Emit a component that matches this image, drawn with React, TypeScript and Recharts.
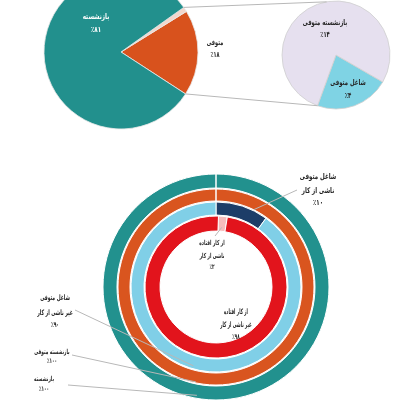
import React from 'react';
import { PieChart, Pie, Cell } from 'recharts';

// ---------- data ----------
const mainCategories = ['متوفی', 'سایر', 'بازنشسته'];
const mainValues = [18, 1, 81];

const deceasedCategories = ['شاغل متوفی', 'بازنشسته متوفی'];
const deceasedValues = [4, 14];

const retiredCategories = ['بازنشسته'];
const retiredValues = [100];

const retiredDeceasedCategories = ['بازنشسته متوفی'];
const retiredDeceasedValues = [100];

const employedDeceasedCategories = ['شاغل متوفی ناشی از کار', 'شاغل متوفی غیر ناشی از کار'];
const employedDeceasedValues = [10, 90];

const disabledCategories = ['از کار افتاده ناشی از کار', 'از کار افتاده غیر ناشی از کار'];
const disabledValues = [2, 98];

// label text lines
const mainLabelRetired = ['بازنشسته', '٪۸۱'];
const mainLabelDeceased = ['متوفی', '٪۱۸'];
const subLabelRetiredDeceased = ['بازنشسته متوفی', '٪۱۴'];
const subLabelEmployedDeceased = ['شاغل متوفی', '٪۴'];
const ringLabelEmployedWork = ['شاغل متوفی', 'ناشی از کار', '٪۱۰'];
const ringLabelDisabledWork = ['از کار افتاده', 'ناشی از کار', '٪۲'];
const ringLabelDisabledNonWork = ['از کار افتاده', 'غیر ناشی از کار', '٪۹۸'];
const ringLabelEmployedNonWork = ['شاغل متوفی', 'غیر ناشی از کار', '٪۹۰'];
const ringLabelRetiredDeceased = ['بازنشسته متوفی', '٪۱۰۰'];
const ringLabelRetired = ['بازنشسته', '٪۱۰۰'];

const toRows = (names: string[], values: number[]) =>
  names.map((name, i) => ({ name, value: values[i] }));

// ---------- layout ----------
const W = 400;
const H = 400;
const FONT = 'DejaVu Sans';

const BIG = { cx: 121, cy: 52, r: 77, start: -33 };
const SMALL = { cx: 336, cy: 55, r: 54, start: -110 };
const RING = { cx: 216, cy: 287 };
const R_TEAL = [99, 113];
const R_ORANGE = [86, 98];
const R_BLUE = [72, 85];
const R_RED = [56, 71];
const RED_START = 88;

const C = {
  teal: '#22908d',
  orange: '#d8521d',
  thin: '#f2d6cc',
  lilac: '#e6e0ef',
  sky: '#7fd3e4',
  ringTeal: '#22918e',
  ringOrange: '#d9551f',
  ringBlue: '#80cfe7',
  navy: '#1d3d68',
  red: '#e2141c',
  pink: '#f6bcbc',
  text: '#262626',
  line: '#b8b8b8',
};

const polar = (cx: number, cy: number, r: number, deg: number) => {
  const a = (deg * Math.PI) / 180;
  return [cx + r * Math.cos(a), cy - r * Math.sin(a)];
};

const sum = (a: number[]) => a.reduce((s, v) => s + v, 0);

const TextBlock = ({ lines, x, ys, fill = C.text, size = 8, sx = 0.65 }: any) => (
  <g>
    {lines.map((t: string, i: number) => (
      <text
        key={i}
        x={0}
        y={0}
        transform={`translate(${x},${ys[i]}) scale(${sx},1)`}
        textAnchor="middle"
        fontFamily={FONT}
        fontWeight="bold"
        fontSize={size}
        fill={fill}
      >
        {t}
      </text>
    ))}
  </g>
);

const Overlay = () => {
  const mainTotal = sum(mainValues);
  const upperAngle = BIG.start + ((mainValues[0] + mainValues[1]) / mainTotal) * 360;
  const p1 = polar(BIG.cx, BIG.cy, BIG.r, upperAngle);
  const p2 = polar(SMALL.cx, SMALL.cy, SMALL.r, 100);
  const p3 = polar(BIG.cx, BIG.cy, BIG.r, BIG.start);
  const p4 = polar(SMALL.cx, SMALL.cy, SMALL.r, SMALL.start);

  const navyEnd = 90 - (employedDeceasedValues[0] / sum(employedDeceasedValues)) * 360;
  const a1 = polar(RING.cx, RING.cy, R_BLUE[1] + 1, navyEnd + 10);
  const pinkMid = RED_START - (disabledValues[0] / sum(disabledValues)) * 180;
  const a2 = polar(RING.cx, RING.cy, R_RED[0] + 4, pinkMid);
  const a3 = polar(RING.cx, RING.cy, R_BLUE[1] - 3, -106);
  const a4 = polar(RING.cx, RING.cy, R_ORANGE[1] - 1, -102);
  const a5 = polar(RING.cx, RING.cy, R_TEAL[1] - 3, -100);

  const ln = (x1: number, y1: number, x2: number, y2: number, key: string) => (
    <line key={key} x1={x1} y1={y1} x2={x2} y2={y2} stroke={C.line} strokeWidth={1} />
  );

  return (
    <svg
      width={W}
      height={H}
      style={{ position: 'absolute', left: 0, top: 0, pointerEvents: 'none', filter: 'grayscale(1)' }}
    >
      {ln(p1[0], p1[1], p2[0], p2[1], 'c1')}
      {ln(p3[0], p3[1], p4[0], p4[1], 'c2')}
      {ln(297, 190, a1[0], a1[1], 'l1')}
      {ln(a2[0], a2[1], 215, 236, 'l2')}
      {ln(75, 310, a3[0], a3[1], 'l3')}
      {ln(72, 355, a4[0], a4[1], 'l4')}
      {ln(68, 385, a5[0], a5[1], 'l5')}

      <TextBlock lines={mainLabelRetired} x={96} ys={[19, 32]} fill="#ffffff" sx={0.7} />
      <TextBlock lines={mainLabelDeceased} x={215} ys={[45, 57]} sx={0.62} />
      <TextBlock lines={subLabelRetiredDeceased} x={325} ys={[25, 37]} sx={0.66} />
      <TextBlock lines={subLabelEmployedDeceased} x={348} ys={[85, 98]} sx={0.67} />

      <TextBlock lines={ringLabelEmployedWork} x={318} ys={[179, 193, 205]} sx={0.69} />
      <TextBlock lines={ringLabelDisabledWork} x={212} ys={[245, 258, 269]} size={7} sx={0.6} />
      <TextBlock lines={ringLabelDisabledNonWork} x={236} ys={[314, 327, 339]} sx={0.53} size={7.5} />
      <TextBlock lines={ringLabelEmployedNonWork} x={55} ys={[300, 315, 327]} sx={0.6} size={7.5} />
      <TextBlock lines={ringLabelRetiredDeceased} x={52} ys={[354, 363]} sx={0.6} size={7} />
      <TextBlock lines={ringLabelRetired} x={44} ys={[381, 391]} sx={0.6} size={7} />
    </svg>
  );
};

export default function App() {
  const mainData = toRows(mainCategories, mainValues);
  const subData = toRows(deceasedCategories, deceasedValues);
  const mainColors = [C.orange, C.thin, C.teal];
  const subColors = [C.sky, C.lilac];

  return (
    <div style={{ position: 'absolute', left: 0, top: 0, width: W, height: H, background: '#fff' }}>
      <PieChart width={W} height={H} margin={{ top: 0, right: 0, bottom: 0, left: 0 }}>
        <Pie
          data={mainData}
          dataKey="value"
          cx={BIG.cx}
          cy={BIG.cy}
          outerRadius={BIG.r}
          startAngle={BIG.start}
          endAngle={BIG.start + 360}
          stroke="#e8e8e8"
          strokeWidth={0.8}
          isAnimationActive={false}
        >
          {mainData.map((d, i) => (
            <Cell key={d.name} fill={mainColors[i]} />
          ))}
        </Pie>
        <Pie
          data={subData}
          dataKey="value"
          cx={SMALL.cx}
          cy={SMALL.cy}
          outerRadius={SMALL.r}
          startAngle={SMALL.start}
          endAngle={SMALL.start + 360}
          stroke="#cfcfcf"
          strokeWidth={0.8}
          isAnimationActive={false}
        >
          {subData.map((d, i) => (
            <Cell key={d.name} fill={subColors[i]} />
          ))}
        </Pie>

        <Pie
          data={toRows(retiredCategories, retiredValues)}
          dataKey="value"
          cx={RING.cx}
          cy={RING.cy}
          innerRadius={R_TEAL[0]}
          outerRadius={R_TEAL[1]}
          startAngle={90}
          endAngle={-270}
          fill={C.ringTeal}
          stroke="#ffffff"
          strokeWidth={1}
          isAnimationActive={false}
        />
        <Pie
          data={toRows(retiredDeceasedCategories, retiredDeceasedValues)}
          dataKey="value"
          cx={RING.cx}
          cy={RING.cy}
          innerRadius={R_ORANGE[0]}
          outerRadius={R_ORANGE[1]}
          startAngle={90}
          endAngle={-270}
          fill={C.ringOrange}
          stroke="#ffffff"
          strokeWidth={1}
          isAnimationActive={false}
        />
        <Pie
          data={toRows(employedDeceasedCategories, employedDeceasedValues)}
          dataKey="value"
          cx={RING.cx}
          cy={RING.cy}
          innerRadius={R_BLUE[0]}
          outerRadius={R_BLUE[1]}
          startAngle={90}
          endAngle={-270}
          stroke="#ffffff"
          strokeWidth={1}
          isAnimationActive={false}
        >
          <Cell fill={C.navy} />
          <Cell fill={C.ringBlue} />
        </Pie>
        <Pie
          data={toRows(disabledCategories, disabledValues)}
          dataKey="value"
          cx={RING.cx}
          cy={RING.cy}
          innerRadius={R_RED[0]}
          outerRadius={R_RED[1]}
          startAngle={RED_START}
          endAngle={RED_START - 360}
          stroke="#ffffff"
          strokeWidth={1}
          isAnimationActive={false}
        >
          <Cell fill={C.pink} />
          <Cell fill={C.red} />
        </Pie>
      </PieChart>
      <Overlay />
    </div>
  );
}
